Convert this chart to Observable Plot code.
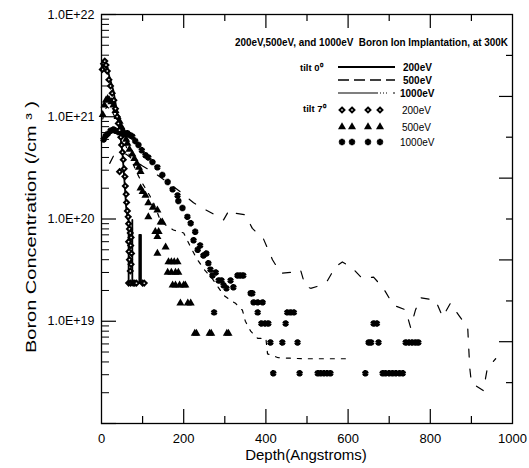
<!DOCTYPE html>
<html><head><meta charset="utf-8">
<script src="https://cdn.jsdelivr.net/npm/d3@7"></script>
<script src="https://cdn.jsdelivr.net/npm/@observablehq/plot@0.6"></script>
<style>
html,body{margin:0;padding:0;background:#fff;}
#chart{width:529px;height:468px;}
svg{display:block;}
</style></head><body><div id="chart"></div>
<script>
// ---- axis ticks / labels ----
const xTickLabels = [0, 200, 400, 600, 800, 1000];
const xLongTicks = [200, 400, 600, 800];
const xShortTicks = [100, 300, 500, 700, 900];
const yTickValues = [1e19, 1e20, 1e21, 1e22];
const yTickLabels = ["1.0E+19", "1.0E+20", "1.0E+21", "1.0E+22"];
const yMajorTicks = [1e18, 1e19, 1e20, 1e21, 1e22];
const rightLongTicks = [6.31e18, 3.98e19, 2.51e20, 1.58e21];
const rightShortTicks = [2.51e18, 1.58e19, 1e20, 6.31e20, 3.98e21];

// ---- series: [depth (Angstrom), concentration (/cm^3)] ----
const tilt0_200eV = [[0,2.9e21],[5,3.5e21],[10,3.4e21],[15,2.9e21],[20,2.4e21],[29,1.8e21],[35,1.3e21],[39,1.0e21],[46,6.4e20],[51,4.4e20],[54,3.0e20],[57,2.0e20],[60,1.3e20],[64,1.0e20],[66,9.8e19],[66,2.36e19],[75,2.36e19],[75,9.8e19],[75,2.36e19],[92,2.36e19],[92,7e19],[96,7e19],[96,2.36e19],[106,2.36e19]];

const tilt0_500eV = [[3,9.5e20],[8,1.15e21],[13,1.25e21],[20,1.2e21],[27,1.1e21],[35,9.5e20],[45,7.5e20],[55,5.8e20],[65,4.5e20],[75,3.6e20],[85,2.9e20],[95,2.4e20],[110,1.9e20],[125,1.5e20],[131,1.3e20],[144,9.5e19],[160,8.5e19],[175,7.8e19],[190,7.5e19],[200,7.3e19],[215,5.5e19],[230,4.2e19],[250,3.2e19],[270,2.6e19],[297,1.8e19],[314,1.6e19],[326,1.5e19],[343,1.28e19],[350,1.0e19],[363,8e18],[380,6.8e18],[400,6.8e18],[404,4.8e18],[430,4.4e18],[491,4.3e18],[600,4.3e18]];

const tilt0_1000eV = [[20,3.5e20],[30,4.2e20],[45,4.5e20],[60,4.3e20],[71,4.0e20],[100,3.3e20],[130,2.8e20],[160,2.3e20],[192,1.84e20],[224,1.44e20],[253,1.23e20],[285,1.05e20],[297,9.8e19],[311,1.23e20],[319,1.15e20],[350,1.1e20],[367,8.1e19],[394,6.4e19],[416,4.0e19],[436,2.95e19],[460,3.0e19],[484,3.2e19],[496,2.2e19],[509,2.1e19],[526,2.2e19],[550,2.5e19],[569,3.4e19],[586,3.8e19],[611,3.3e19],[635,2.6e19],[662,2.7e19],[686,2.1e19],[710,1.44e19],[740,1.29e19],[752,8.7e18],[764,1.29e19],[776,1.7e19],[813,1.6e19],[830,1.1e19],[849,1.5e19],[869,1.15e19],[891,8.7e18],[893,6e18],[896,3.5e18],[900,2.5e18],[929,2.1e18],[939,3.5e18],[959,4.3e18]];

const tilt7_200eV = [[2,2.9e21],[5,3.3e21],[8,3.5e21],[11,3.2e21],[14,2.8e21],[18,2.3e21],[22,2.0e21],[26,1.7e21],[30,1.45e21],[34,1.2e21],[38,1.0e21],[41,8.6e20],[44,7.4e20],[44,2.9e20],[47,6.3e20],[49,5.3e20],[51,4.5e20],[53,3.8e20],[55,3.1e20],[57,2.6e20],[58,2.1e20],[60,1.75e20],[61,1.45e20],[63,1.2e20],[65,1.05e20],[66,9e19],[68,8e19],[70,7.3e19],[72,6.6e19],[66,6e19],[71,5.5e19],[67,4.8e19],[73,4.6e19],[68,4.0e19],[72,3.6e19],[70,3.1e19],[66,2.36e19],[71,2.36e19],[77,2.36e19],[81,2.36e19],[85,2.36e19],[100,2.36e19],[104,2.36e19]];

const tilt7_500eV = [[3,1.05e21],[7,1.3e21],[11,1.45e21],[15,1.5e21],[19,1.45e21],[24,1.4e21],[29,1.3e21],[34,1.15e21],[39,1.0e21],[44,9e20],[48,8e20],[51,7.5e20],[56,6.6e20],[60,6e20],[63,5.5e20],[68,4.8e20],[75,4.3e20],[80,3.9e20],[86,3.5e20],[91,3.2e20],[95,2.9e20],[95,2.0e20],[100,1.85e20],[107,1.7e20],[114,1.44e20],[114,1.05e20],[125,1.3e20],[136,1.22e20],[144,9.3e19],[148,9.3e19],[131,7.5e19],[139,7.5e19],[136,6.7e19],[156,5.3e19],[136,4.6e19],[163,3.8e19],[170,3.8e19],[177,3.8e19],[185,3.8e19],[161,3.0e19],[170,3.0e19],[180,3.0e19],[187,3.0e19],[173,2.25e19],[180,2.25e19],[190,2.25e19],[200,2.25e19],[204,2.25e19],[192,1.5e19],[210,1.5e19],[217,1.5e19],[227,7.6e18],[231,7.6e18],[263,7.6e18],[267,7.6e18],[305,7.6e18],[309,7.6e18]];

const tilt7_1000eV = [[5,6.0e20],[10,6.5e20],[15,6.8e20],[22,7.3e20],[29,7.5e20],[34,7.3e20],[41,7.1e20],[47,7.0e20],[54,6.9e20],[63,6.9e20],[70,6.6e20],[75,6.4e20],[82,5.8e20],[90,5.3e20],[98,4.7e20],[107,4.2e20],[114,4.0e20],[124,3.6e20],[136,3.2e20],[148,2.7e20],[161,2.3e20],[173,1.95e20],[185,1.7e20],[187,1.5e20],[197,1.28e20],[209,1.05e20],[217,9.1e19],[224,6.2e19],[228,7.5e19],[234,5.0e19],[240,5.5e19],[248,4.4e19],[255,4.6e19],[260,3.7e19],[265,3.2e19],[270,2.8e19],[278,3.0e19],[285,2.5e19],[292,2.5e19],[297,2.25e19],[304,2.1e19],[314,2.5e19],[321,2.15e19],[331,2.8e19],[338,2.8e19],[345,2.8e19],[363,1.88e19],[367,1.88e19],[370,1.53e19],[380,1.53e19],[392,1.53e19],[274,1.22e19],[380,1.22e19],[452,1.22e19],[460,1.22e19],[468,1.22e19],[389,9.5e18],[398,9.5e18],[406,9.5e18],[448,9.5e18],[411,6.2e18],[440,6.2e18],[477,6.2e18],[418,3.1e18],[482,3.1e18],[526,3.1e18],[533,3.1e18],[541,3.1e18],[549,3.1e18],[557,3.1e18],[642,3.1e18],[684,3.1e18],[691,3.1e18],[700,3.1e18],[708,3.1e18],[716,3.1e18],[725,3.1e18],[733,3.1e18],[650,6.2e18],[656,6.2e18],[674,6.2e18],[740,6.2e18],[748,6.2e18],[756,6.2e18],[764,6.2e18],[771,6.2e18],[662,9.5e18],[670,9.5e18]];

// ---- text ----
const titleText = "200eV,500eV, and 1000eV  Boron Ion Implantation, at 300K";
const xTitle = "Depth(Angstroms)";
const yTitle = "Boron Concentration (/cm \u00B3 )";
const lineLegendHeader = "tilt 0\u2070";
const lineLegendLabels = ["200eV", "500eV", "1000eV"];
const markLegendHeader = "tilt 7\u2070";
const markLegendLabels = ["200eV", "500eV", "1000eV"];

// ---- layout ----
const W = 529, H = 468, mL = 101, mR = 17, mT = 14, mB = 45;
const iw = W - mL - mR, ih = H - mT - mB;
const FONT = "'Liberation Sans', Arial, Helvetica, sans-serif";
const X = d => d[0], Y = d => d[1];
const yLab = new Map(yTickValues.map((v, i) => [v, yTickLabels[i]]));
const yMinorTicks = [];
for (const dec of [1e18, 1e19, 1e20, 1e21]) for (let m = 2; m <= 9; m++) yMinorTicks.push(m * dec);

const styles = {
  s200: {stroke: "#000", strokeWidth: 1.8},
  s500: {stroke: "#000", strokeWidth: 1.2, strokeDasharray: "4,7"},
  s1000: {stroke: "#000", strokeWidth: 1.2, strokeDasharray: "8,12"}
};

const plot = Plot.plot({
  width: W, height: H,
  marginLeft: mL, marginRight: mR, marginTop: mT, marginBottom: mB,
  style: {fontFamily: FONT, fontSize: "13px", color: "#000", background: "#fff"},
  x: {domain: [0, 1000]},
  y: {type: "log", domain: [1e18, 1e22]},
  marks: [
    // inward ticks
    Plot.ruleX(xLongTicks, {x: d => d, insetTop: ih - 14, stroke: "#000", strokeWidth: 1.2}),
    Plot.ruleX(xShortTicks, {x: d => d, insetTop: ih - 7, stroke: "#000", strokeWidth: 1.2}),
    Plot.ruleX(xLongTicks, {x: d => d, insetBottom: ih - 14, stroke: "#000", strokeWidth: 1.2}),
    Plot.ruleX(xShortTicks, {x: d => d, insetBottom: ih - 7, stroke: "#000", strokeWidth: 1.2}),
    Plot.ruleY(yMajorTicks, {y: d => d, insetRight: iw - 15, stroke: "#000", strokeWidth: 1.2}),
    Plot.ruleY(yMinorTicks, {y: d => d, insetRight: iw - 8, stroke: "#000", strokeWidth: 1}),
    Plot.ruleY(rightLongTicks, {y: d => d, insetLeft: iw - 13, stroke: "#000", strokeWidth: 1.2}),
    Plot.ruleY(rightShortTicks, {y: d => d, insetLeft: iw - 6, stroke: "#000", strokeWidth: 1.2}),
    // series
    Plot.line(tilt0_1000eV, {x: X, y: Y, ...styles.s1000}),
    Plot.line(tilt0_500eV, {x: X, y: Y, ...styles.s500}),
    Plot.line(tilt0_200eV, {x: X, y: Y, ...styles.s200}),
    Plot.dot(tilt7_1000eV, {x: X, y: Y, symbol: "asterisk", r: 3, stroke: "#000", strokeWidth: 2.6}),
    Plot.dot(tilt7_500eV, {x: X, y: Y, symbol: "triangle", r: 3, fill: "#000"}),
    Plot.dot(tilt7_200eV, {x: X, y: Y, symbol: "diamond2", r: 2.2, fill: "#fff", stroke: "#000", strokeWidth: 2}),
    Plot.frame({stroke: "#000", strokeWidth: 1.3}),
    Plot.axisX({ticks: xTickLabels, tickFormat: d => String(d), tickSize: 0, tickPadding: 10, fontSize: 13, label: null}),
    Plot.axisY({ticks: yTickValues, tickFormat: d => yLab.get(d), tickSize: 0, tickPadding: 7, fontSize: 12.5, label: null})
  ]
});
document.getElementById("chart").appendChild(plot);

// ---- titles and legend (pixel layout) ----
const svg = d3.select(plot);
const g = svg.append("g").attr("font-family", FONT).attr("fill", "#000").attr("text-anchor", "start");
g.append("text").attr("x", 306).attr("y", 460).attr("text-anchor", "middle")
  .attr("font-size", 15).text(xTitle);
g.append("text").attr("transform", "translate(36,227) rotate(-90)").attr("text-anchor", "middle")
  .attr("font-size", 14).attr("textLength", 252).attr("lengthAdjust", "spacingAndGlyphs").text(yTitle);
g.append("text").attr("x", 235).attr("y", 46).attr("text-anchor", "start").attr("font-size", 10).attr("font-weight", "bold")
  .attr("textLength", 273).attr("lengthAdjust", "spacingAndGlyphs").text(titleText);

// line legend
g.append("text").attr("x", 300).attr("y", 71).attr("text-anchor", "start").attr("font-size", 9.5).attr("font-weight", "bold").text(lineLegendHeader);
const lineStyles = [styles.s200, {strokeWidth: 1.3, strokeDasharray: "11,5"}, {strokeWidth: 1.1, strokeDasharray: "40,2,1,2,1,2,1,6,5"}];
const lineYs = [67, 80, 93];
lineLegendLabels.forEach((lab, i) => {
  const st = lineStyles[i];
  g.append("line").attr("x1", 338).attr("x2", 395).attr("y1", lineYs[i]).attr("y2", lineYs[i])
    .attr("stroke", "#000").attr("stroke-width", st.strokeWidth).attr("stroke-dasharray", st.strokeDasharray || null);
  g.append("text").attr("x", i === 2 ? 400 : 403).attr("y", lineYs[i] + 4).attr("text-anchor", "start").attr("font-size", 10).attr("font-weight", "bold").text(lab);
});

// marker legend
g.append("text").attr("x", 303).attr("y", 112).attr("text-anchor", "start").attr("font-size", 9.5).attr("font-weight", "bold").text(markLegendHeader);
const markYs = [110, 127, 142];
const markXs = [342, 352, 368, 380];
const symDefs = [
  {type: d3.symbolDiamond2, size: Math.PI * 2.2 * 2.2, fill: "#fff", stroke: "#000", sw: 2},
  {type: d3.symbolTriangle, size: Math.PI * 9, fill: "#000", stroke: "none", sw: 0},
  {type: d3.symbolAsterisk, size: Math.PI * 9, fill: "none", stroke: "#000", sw: 2.6}
];
markLegendLabels.forEach((lab, i) => {
  const sd = symDefs[i];
  const path = d3.symbol().type(sd.type).size(sd.size)();
  markXs.forEach(mx => {
    g.append("path").attr("d", path).attr("transform", `translate(${mx},${markYs[i]})`)
      .attr("fill", sd.fill).attr("stroke", sd.stroke).attr("stroke-width", sd.sw);
  });
  g.append("text").attr("x", i === 2 ? 400 : 402).attr("y", markYs[i] + 4).attr("text-anchor", "start").attr("font-size", 10).text(lab);
});
</script>
</body></html>
